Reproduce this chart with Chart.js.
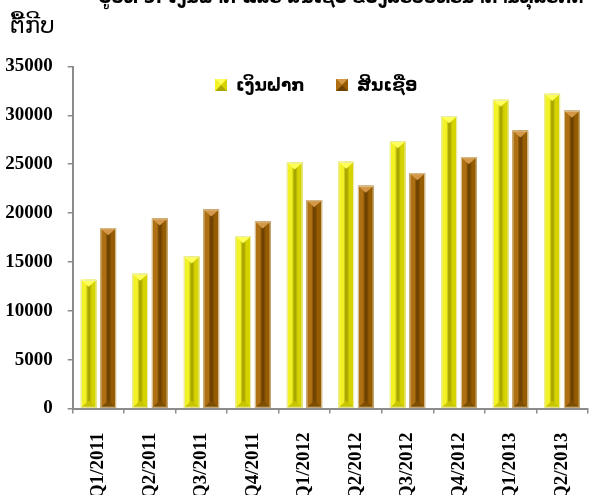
<!DOCTYPE html>
<html>
<head>
<meta charset="utf-8">
<script src="https://cdn.jsdelivr.net/npm/chart.js@4.4.1/dist/chart.umd.min.js"></script>
<style>
  html, body { margin: 0; padding: 0; background: #fff; overflow: hidden; }
  #wrap { width: 593px; height: 495px; overflow: hidden; }
  canvas { display: block; }
</style>
</head>
<body>
<div id="wrap"><canvas id="c" width="604" height="495" style="width:604px;height:495px"></canvas></div>
<script>
// ຂໍ້ມູນ (ຕື້ກີບ)
const quarters = ['Q1/2011', 'Q2/2011', 'Q3/2011', 'Q4/2011', 'Q1/2012', 'Q2/2012', 'Q3/2012', 'Q4/2012', 'Q1/2013', 'Q2/2013'];
const deposits = [13170, 13790, 15560, 17640, 25180, 25250, 27360, 29920, 31590, 32200];
const credits  = [18450, 19450, 20370, 19140, 21320, 22790, 24080, 25720, 28450, 30470];
const seriesNames = ['ເງິນຝາກ', 'ສິນເຊື່ອ'];
const yTicks = [0, 5000, 10000, 15000, 20000, 25000, 30000, 35000];
const unitLabel = 'ຕື້ກີບ';
const titleText = 'ຮູບທີ 3: ເງິນຝາກ ແລະ ສິນເຊື່ອ ຂອງລະບົບທະນາຄານທຸລະກິດ';

// ສີ 3 ມິຕິ ຂອງແຕ່ລະຊຸດ
const palettes = [
  { base: '#e4e414', left: '#f2f226', right: '#d6d400', ridge: '#aaa600', top: '#ffff5a', bottom: '#c8c400', edge: '#ecebb4' },
  { base: '#a0660a', left: '#ae7012', right: '#955c02', ridge: '#6e4200', top: '#d49848', bottom: '#7e4e00', edge: '#d8c49a' }
];

const LAO = "'DejaVu Sans', 'Noto Sans', sans-serif";
const SERIF = "'Liberation Serif', 'DejaVu Serif', serif";

function tri(ctx, pts, color) {
  ctx.beginPath();
  ctx.moveTo(pts[0][0], pts[0][1]);
  for (let i = 1; i < pts.length; i++) ctx.lineTo(pts[i][0], pts[i][1]);
  ctx.closePath();
  ctx.fillStyle = color;
  ctx.fill();
}

// ແຕ້ມແທ່ງແບບນູນ
const bevelBars = {
  id: 'bevelBars',
  afterDatasetsDraw(chart) {
    const ctx = chart.ctx;
    chart.data.datasets.forEach((ds, di) => {
      const p = palettes[di];
      chart.getDatasetMeta(di).data.forEach(bar => {
        const w = bar.width, l = bar.x - w / 2, r = bar.x + w / 2;
        const t = bar.y, b = bar.base;
        const g = ctx.createLinearGradient(l, 0, r, 0);
        g.addColorStop(0, p.left);
        g.addColorStop(0.32, p.left);
        g.addColorStop(0.46, p.ridge);
        g.addColorStop(0.56, p.ridge);
        g.addColorStop(0.7, p.right);
        g.addColorStop(1, p.right);
        ctx.save();
        ctx.fillStyle = g;
        ctx.fillRect(l, t, w, b - t);
        const d = Math.min(w * 0.45, (b - t) / 2);
        tri(ctx, [[l, t], [r, t], [bar.x, t + d]], p.top);
        tri(ctx, [[l, b], [r, b], [bar.x, b - d]], p.bottom);
        ctx.strokeStyle = p.edge;
        ctx.lineWidth = 1;
        ctx.strokeRect(l + 0.5, t + 0.5, w - 1, b - t - 1);
        ctx.restore();
      });
    });
  }
};

// ຫົວຂໍ້, ຫົວໜ່ວຍ ແລະ ຄຳອະທິບາຍ
const decorations = {
  id: 'decorations',
  afterDraw(chart) {
    const ctx = chart.ctx;
    ctx.save();
    ctx.fillStyle = '#000';
    ctx.textBaseline = 'alphabetic';

    // ຫົວຂໍ້ (ຖືກຕັດຢູ່ເທິງ)
    ctx.font = 'bold 20px ' + LAO;
    const tw = ctx.measureText(titleText).width;
    ctx.save();
    ctx.translate(341, 3);
    ctx.scale(485 / tw, 1);
    ctx.textAlign = 'center';
    ctx.fillText(titleText, 0, 0);
    ctx.restore();

    // ຫົວໜ່ວຍ
    ctx.font = '23px ' + LAO;
    ctx.textAlign = 'left';
    ctx.fillText(unitLabel, 10, 33);

    // ຄຳອະທິບາຍ
    const items = [{ x: 215, tx: 236 }, { x: 336, tx: 357 }];
    ctx.font = 'bold 17px ' + LAO;
    items.forEach((it, i) => {
      const p = palettes[i];
      const l = it.x, t = 79, s = 12;
      ctx.fillStyle = p.base;
      ctx.fillRect(l, t, s, s);
      tri(ctx, [[l, t], [l + s, t], [l + s / 2, t + s / 2]], p.top);
      tri(ctx, [[l + s, t], [l + s, t + s], [l + s / 2, t + s / 2]], p.right);
      tri(ctx, [[l, t + s], [l + s, t + s], [l + s / 2, t + s / 2]], p.ridge);
      tri(ctx, [[l, t], [l, t + s], [l + s / 2, t + s / 2]], p.left);
      ctx.fillStyle = '#000';
      ctx.fillText(seriesNames[i], it.tx, 91);
    });
    ctx.restore();
  }
};

new Chart(document.getElementById('c'), {
  type: 'bar',
  data: {
    labels: quarters,
    datasets: [
      { label: seriesNames[0], data: deposits, backgroundColor: palettes[0].base, borderWidth: 0,
        categoryPercentage: 0.76, barPercentage: 0.8 },
      { label: seriesNames[1], data: credits, backgroundColor: palettes[1].base, borderWidth: 0,
        categoryPercentage: 0.76, barPercentage: 0.8 }
    ]
  },
  options: {
    responsive: false,
    animation: false,
    devicePixelRatio: 1,
    layout: { padding: { top: 66.5, right: 3.5, left: 0, bottom: 0 } },
    plugins: { legend: { display: false }, tooltip: { enabled: false }, title: { display: false } },
    scales: {
      x: {
        offset: true,
        grid: { display: true, drawOnChartArea: false, drawTicks: true, tickLength: 5, color: '#8c8c8c', lineWidth: 1.5, offset: true },
        border: { display: true, color: '#8c8c8c', width: 2 },
        ticks: { minRotation: 90, maxRotation: 90, autoSkip: false, padding: 19, color: '#000',
                 font: { family: SERIF, size: 19, weight: 'bold' } },
        afterFit(scale) { scale.height = 86.5; }
      },
      y: {
        min: 0, max: 35000,
        afterBuildTicks(scale) { scale.ticks = yTicks.map(v => ({ value: v })); },
        grid: { display: true, drawOnChartArea: false, drawTicks: true, tickLength: 5, color: '#8c8c8c', lineWidth: 1.5 },
        border: { display: true, color: '#8c8c8c', width: 2 },
        ticks: { padding: 15, color: '#000', font: { family: SERIF, size: 19, weight: 'bold' },
                 callback: v => String(v) },
        afterFit(scale) { scale.width = 72.7; }
      }
    }
  },
  plugins: [bevelBars, decorations]
});
</script>
</body>
</html>
